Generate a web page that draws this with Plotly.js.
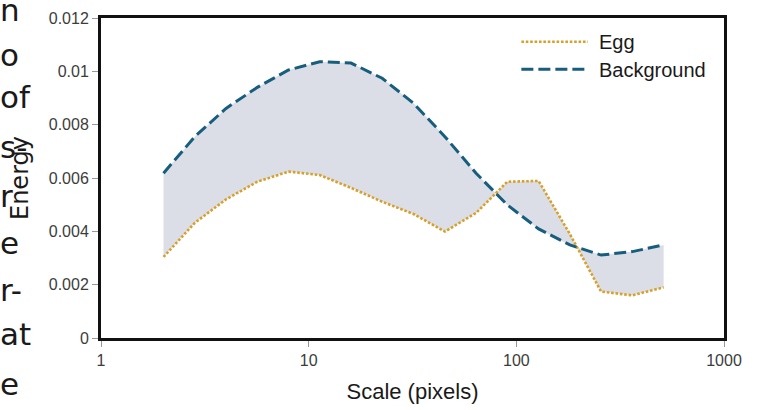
<!DOCTYPE html>
<html>
<head>
<meta charset="utf-8">
<script src="https://cdn.plot.ly/plotly-3.0.1.min.js"></script>
<style>html,body{margin:0;padding:0;background:#fff;}#chart{width:760px;height:410px;}</style>
</head>
<body>
<div id="chart"></div>
<script>
// Data
const scales = [2, 2.83, 4, 5.66, 8, 11.3, 16, 22.6, 32, 45.3, 64, 90.5, 128, 181, 256, 362, 512];
const eggEnergy = [0.00304, 0.00432, 0.00520, 0.00586, 0.00624, 0.00611, 0.00563, 0.00511, 0.00465, 0.00399, 0.00469, 0.00586, 0.00589, 0.00390, 0.00174, 0.00160, 0.00190];
const backgroundEnergy = [0.00618, 0.00755, 0.00861, 0.00940, 0.01005, 0.01036, 0.01031, 0.00974, 0.00880, 0.00755, 0.00618, 0.00499, 0.00409, 0.00349, 0.00311, 0.00324, 0.00349];
const seriesNames = ["Egg", "Background"];
const xTickVals = [1, 10, 100, 1000];
const xTickText = ["1", "10", "100", "1000"];
const yTickVals = [0, 0.002, 0.004, 0.006, 0.008, 0.01, 0.012];
const yTickText = ["0", "0.002", "0.004", "0.006", "0.008", "0.01", "0.012"];
// Fragments of the surrounding page text visible at the left edge
const sideText = ["n", "o", "of", "s-", "r", "e", "r-", "at", "e"];
const sideTextCenter = [14, 59, 101.5, 151, 200, 247, 294.5, 338, 388];

const eggColor = "#d6a02a";
const bgColor = "#175d7d";
const fillColor = "rgb(220,222,231)";

const L = 101, R = 35.5, T = 18, B = 72;
const W = 760, H = 410;
const pw = W - L - R, ph = H - T - B;
const px2x = p => (p - L) / pw;
const py2y = p => (H - B - p) / ph;

const traces = [
  {
    x: scales, y: eggEnergy, name: seriesNames[0], type: "scatter", mode: "lines",
    line: {color: eggColor, width: 2.6, dash: "2.6px,1.8px"},
    showlegend: false, hoverinfo: "x+y+name"
  },
  {
    x: scales, y: backgroundEnergy, name: seriesNames[1], type: "scatter", mode: "lines",
    line: {color: bgColor, width: 3, dash: "12px,5px"},
    fill: "tonexty", fillcolor: fillColor,
    showlegend: false, hoverinfo: "x+y+name"
  }
];

const annotations = sideText.map((t, i) => ({
  text: t, xref: "paper", yref: "paper",
  x: px2x(-1), y: py2y(sideTextCenter[i] - 4.3),
  xanchor: "left", yanchor: "middle", showarrow: false, borderpad: 0,
  font: {family: "'DejaVu Sans', sans-serif", size: 31, color: "#1a1a1a"}
}));

// Custom legend (long line samples as in the reference)
const legendY = [41.7, 69.3];
const legendColors = [eggColor, bgColor];
const legendDash = ["2.6px,1.8px", "12px,5px"];
const legendWidth = [2.6, 3];
const shapes = [];
seriesNames.forEach((n, i) => {
  shapes.push({
    type: "line", xref: "paper", yref: "paper",
    x0: px2x(521.7), x1: px2x(588.3), y0: py2y(legendY[i]), y1: py2y(legendY[i]),
    line: {color: legendColors[i], width: legendWidth[i], dash: legendDash[i]}
  });
  annotations.push({
    text: n, xref: "paper", yref: "paper",
    x: px2x(597), y: py2y(legendY[i] + 0.5),
    xanchor: "left", yanchor: "middle", showarrow: false,
    font: {family: "'Liberation Sans', Arial, sans-serif", size: 20, color: "#1a1a1a"}
  });
});

const layout = {
  width: W, height: H,
  margin: {l: L, r: R, t: T, b: B, pad: 0},
  paper_bgcolor: "#ffffff", plot_bgcolor: "#ffffff",
  showlegend: false,
  font: {family: "'Liberation Sans', Arial, sans-serif", color: "#3c3c3c", size: 16},
  xaxis: {
    type: "log", range: [0, 3],
    tickvals: xTickVals, ticktext: xTickText,
    ticks: "outside", ticklen: 6, tickwidth: 1, tickcolor: "#999",
    showline: true, linecolor: "#111", linewidth: 3, mirror: true,
    showgrid: false, zeroline: false,
    tickfont: {size: 16, color: "#3c3c3c"},
    title: {text: "Scale (pixels)", font: {size: 22, color: "#1a1a1a"}, standoff: 16}
  },
  yaxis: {
    range: [0, 0.012],
    tickvals: yTickVals, ticktext: yTickText,
    ticks: "outside", ticklen: 6, tickwidth: 1, tickcolor: "#999",
    showline: true, linecolor: "#111", linewidth: 3, mirror: true,
    showgrid: false, zeroline: false,
    tickfont: {size: 16, color: "#3c3c3c"},
    title: {text: "Energy", font: {family: "'DejaVu Sans', sans-serif", size: 24, color: "#1a1a1a"}, standoff: 14}
  },
  shapes: shapes,
  annotations: annotations
};

Plotly.newPlot("chart", traces, layout, {displayModeBar: false, staticPlot: true});
</script>
</body>
</html>
